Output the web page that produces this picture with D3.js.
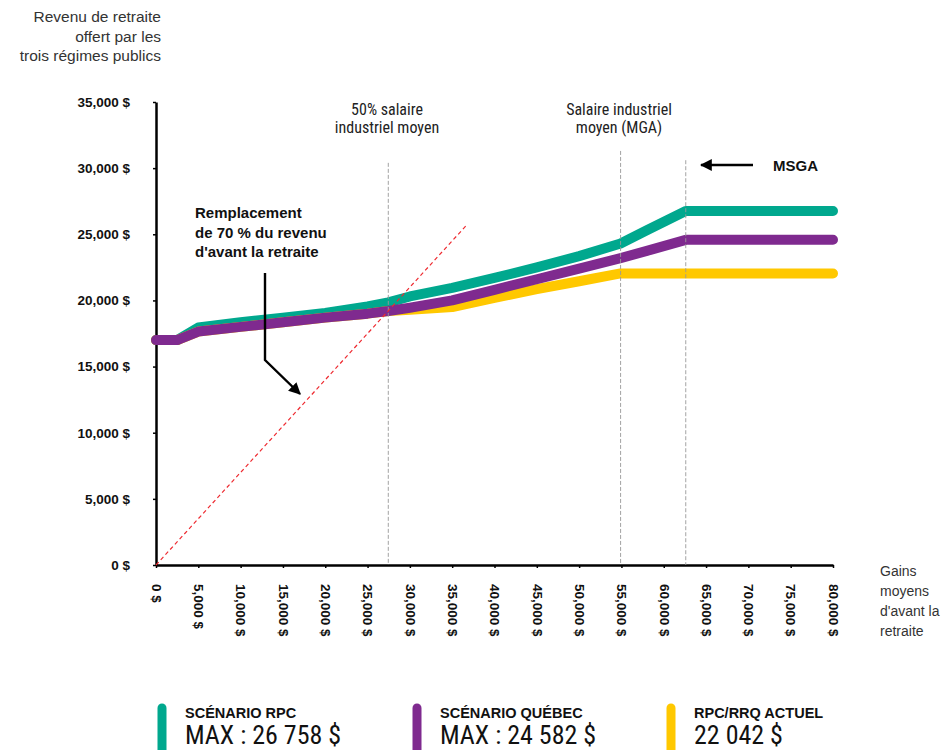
<!DOCTYPE html>
<html><head><meta charset="utf-8">
<script src="https://cdn.jsdelivr.net/npm/d3@7"></script>
<style>body{margin:0;background:#fff}</style>
</head><body>
<svg id="c" width="948" height="750"></svg>
<script>
// ---- data ----
const earnings       = [0,2500,5000,10000,15000,20000,25000,27450,30000,35000,40000,45000,50000,54900,58000,62600,70000,80000];
const rpcScenario    = [17000,17000,17950,18350,18700,19050,19550,19850,20300,20950,21700,22500,23350,24300,25300,26758,26758,26758];
const quebecScenario = [17000,17000,17650,18000,18350,18700,19000,19200,19450,20000,20800,21600,22400,23200,23750,24582,24582,24582];
const currentPlan    = [17000,17000,17650,18000,18350,18700,19000,19200,19300,19500,20200,20850,21450,22042,22042,22042,22042,22042];
const xTickValues = [0,5000,10000,15000,20000,25000,30000,35000,40000,45000,50000,55000,60000,65000,70000,75000,80000];
const yTickValues = [0,5000,10000,15000,20000,25000,30000,35000];
const markerEarnings = [27450, 54900, 62600];     // 50% MGA, MGA, MSGA
const markerTops     = [30400, 31300, 30600];
const replacementRate = 0.7, replacementEnd = 36800;
const seriesNames  = ["SCÉNARIO RPC", "SCÉNARIO QUÉBEC", "RPC/RRQ ACTUEL"];
const seriesMaxTxt = ["MAX : 26 758 $", "MAX : 24 582 $", "22 042 $"];
const seriesColors = ["#00a88e", "#7f2a8f", "#ffc800"];

const svg = d3.select("#c");
const x = d3.scaleLinear().domain([0,80000]).range([156,833]);
const y = d3.scaleLinear().domain([0,35000]).range([565,102]);
const fmt = v => d3.format(",")(v) + " $";
const narrow = "'Liberation Sans Narrow','Roboto Condensed',Roboto,sans-serif";
const sans = "'Liberation Sans',Arial,sans-serif";

// axes
const yAxis = svg.append("g").attr("transform",`translate(${x(0)},0)`)
  .call(d3.axisLeft(y).tickValues(yTickValues).tickSize(3).tickSizeOuter(0).tickPadding(23).tickFormat(fmt));
yAxis.select(".domain").attr("stroke","#000").attr("stroke-width",2.5);
yAxis.selectAll(".tick line").attr("stroke","#000").attr("stroke-width",1.5);
yAxis.selectAll("text").attr("font-family",sans).attr("font-weight","bold").attr("font-size",13.5).attr("fill","#111");

const xAxis = svg.append("g").attr("transform",`translate(0,${y(0)})`)
  .call(d3.axisBottom(x).tickValues(xTickValues).tickSize(3).tickSizeOuter(0).tickFormat(fmt));
xAxis.select(".domain").attr("stroke","#000").attr("stroke-width",2.5);
xAxis.selectAll(".tick line").attr("stroke","#000").attr("stroke-width",1.5);
xAxis.selectAll("text")
  .attr("font-family",sans).attr("font-weight","bold").attr("font-size",13.5).attr("fill","#111")
  .attr("text-anchor","start").attr("dy","0.35em").attr("y",0)
  .attr("transform","translate(0,19) rotate(90)");

// series
const line = d3.line().x((d,i)=>x(earnings[i])).y(d=>y(d));
[[rpcScenario,0],[currentPlan,2],[quebecScenario,1]].forEach(([s,k])=>{
  svg.append("path").attr("d",line(s)).attr("fill","none")
    .attr("stroke",seriesColors[k]).attr("stroke-width",10)
    .attr("stroke-linecap","round").attr("stroke-linejoin","round");
});

// vertical markers
markerEarnings.forEach((m,i)=>{
  svg.append("line").attr("x1",x(m)).attr("x2",x(m)).attr("y1",y(markerTops[i])).attr("y2",y(0))
    .attr("stroke","#9a9a9a").attr("stroke-width",1).attr("stroke-dasharray","4,2").attr("opacity",0.9);
});

// 70% replacement line
svg.append("line").attr("x1",x(0)).attr("y1",y(0))
  .attr("x2",x(replacementEnd)).attr("y2",y(replacementEnd*replacementRate))
  .attr("stroke","#ee2a30").attr("stroke-width",1.2).attr("stroke-dasharray","4,3");

// arrow markers
const defs = svg.append("defs");
defs.append("marker").attr("id","ah").attr("viewBox","0 0 10 10").attr("refX",9).attr("refY",5)
  .attr("markerWidth",5).attr("markerHeight",5).attr("markerUnits","strokeWidth").attr("orient","auto")
  .append("path").attr("d","M0,0L10,5L0,10z").attr("fill","#000");

// annotations
function multi(txt, xx, y0, dy, opts){
  const t = svg.append("text").attr("x",xx).attr("y",y0)
    .attr("font-family",opts.family).attr("font-size",opts.size)
    .attr("font-weight",opts.weight||"normal").attr("fill",opts.fill||"#111")
    .attr("text-anchor",opts.anchor||"start");
  txt.forEach((s,i)=>t.append("tspan").attr("x",xx).attr("y",y0+i*dy).text(s));
}
multi(["Revenu de retraite","offert par les","trois régimes publics"],161,22,19.5,{family:sans,size:15.5,anchor:"end",fill:"#333"});
multi(["Gains","moyens","d'avant la","retraite"],880,576,20,{family:sans,size:14,fill:"#333"});
multi(["50% salaire","industriel moyen"],387,115,18,{family:narrow,size:16,anchor:"middle",fill:"#222"});
multi(["Salaire industriel","moyen (MGA)"],619,115,18,{family:narrow,size:16,anchor:"middle",fill:"#222"});
multi(["Remplacement","de 70 % du revenu","d'avant la retraite"],195,218,19.5,{family:sans,size:15,weight:"bold"});
svg.append("text").attr("x",773).attr("y",171).attr("font-family",sans).attr("font-size",15)
  .attr("font-weight","bold").attr("fill","#111").text("MSGA");
svg.append("line").attr("x1",753).attr("y1",165).attr("x2",701).attr("y2",165)
  .attr("stroke","#000").attr("stroke-width",2.4).attr("marker-end","url(#ah)");
svg.append("path").attr("d","M265,273L265,360L300,394").attr("fill","none")
  .attr("stroke","#000").attr("stroke-width",2.4).attr("marker-end","url(#ah)");

// legend
const legX = [162, 417, 671];
seriesNames.forEach((n,i)=>{
  svg.append("line").attr("x1",legX[i]).attr("x2",legX[i]).attr("y1",708).attr("y2",760)
    .attr("stroke",seriesColors[i]).attr("stroke-width",9).attr("stroke-linecap","round");
  svg.append("text").attr("x",legX[i]+23).attr("y",718).attr("font-family",sans).attr("font-size",14.5)
    .attr("font-weight","bold").attr("fill","#111").text(n);
  svg.append("text").attr("x",legX[i]+23).attr("y",744).attr("font-family",narrow).attr("font-size",26)
    .attr("fill","#111").text(seriesMaxTxt[i]);
});
</script>
</body></html>
